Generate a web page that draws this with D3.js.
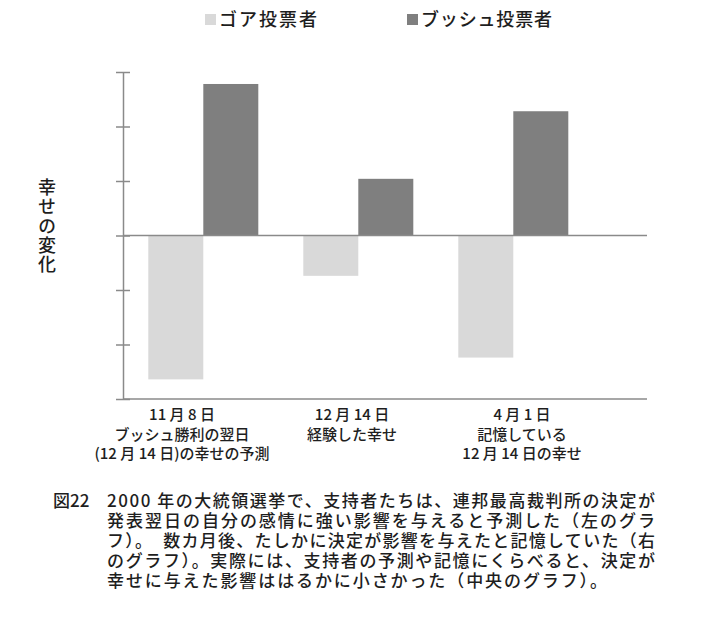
<!DOCTYPE html>
<html>
<head>
<meta charset="utf-8">
<script src="https://cdn.jsdelivr.net/npm/d3@7"></script>
<style>
  body { margin: 0; background: #fff; }
  svg { display: block; font-family: "Noto Sans CJK JP", "Noto Sans", sans-serif; }
  text { fill: #1e1e1e; font-weight: 500; }
</style>
</head>
<body>
<div id="chart"></div>
<script>
// Sizes
const width = 704;
const height = 621;

// Data
const categories = ["forecast", "experienced", "remembered"];
const categoryLabels = [
  ["11 月 8 日", "ブッシュ勝利の翌日", "(12 月 14 日)の幸せの予測"],
  ["12 月 14 日", "経験した幸せ"],
  ["4 月 1 日", "記憶している", "12 月 14 日の幸せ"]
];
const seriesNames = ["ゴア投票者", "ブッシュ投票者"];
const goreValues = [-2.64, -0.74, -2.24];
const bushValues = [2.78, 1.04, 2.28];
const yTicks = [-3, -2, -1, 0, 1, 2, 3];
const yLabel = "幸せの変化";
const captionHead = "図22";
const captionLines = [
  "2000 年の大統領選挙で、支持者たちは、連邦最高裁判所の決定が",
  "発表翌日の自分の感情に強い影響を与えると予測した（左のグラ",
  "フ）。　数カ月後、たしかに決定が影響を与えたと記憶していた（右",
  "のグラフ）。実際には、支持者の予測や記憶にくらべると、決定が",
  "幸せに与えた影響ははるかに小さかった（中央のグラフ）。"
];

const colors = ["#d9d9d9", "#7f7f7f"];
const axisColor = "#8a8a8a";

const plot = { left: 123, right: 647, top: 72, bottom: 399 };

const svg = d3.select("#chart")
  .append("svg")
  .attr("width", width)
  .attr("height", height);

// Scales
const x = d3.scaleBand()
  .domain(categories)
  .range([125.8, 590.8])
  .paddingInner(45 / 155)
  .paddingOuter(45 / 310);

const xSub = d3.scaleBand()
  .domain(seriesNames)
  .range([0, x.bandwidth()]);

const y = d3.scaleLinear()
  .domain([-3, 3])
  .range([plot.bottom, plot.top]);

// label positions under the groups
const xLabel = d3.scalePoint()
  .domain(categories)
  .range([182, 522]);

// Bars
const rows = categories.map((c, i) => ({
  cat: c,
  vals: [
    { name: seriesNames[0], v: goreValues[i], c: colors[0] },
    { name: seriesNames[1], v: bushValues[i], c: colors[1] }
  ]
}));

const groups = svg.selectAll(".group")
  .data(rows)
  .enter()
  .append("g")
  .attr("class", "group")
  .attr("transform", d => `translate(${x(d.cat)},0)`);

groups.selectAll("rect")
  .data(d => d.vals)
  .enter()
  .append("rect")
  .attr("x", d => xSub(d.name))
  .attr("y", d => y(Math.max(0, d.v)))
  .attr("width", xSub.bandwidth())
  .attr("height", d => Math.abs(y(d.v) - y(0)))
  .attr("fill", d => d.c);

// Zero line
svg.append("line")
  .attr("x1", plot.left)
  .attr("x2", plot.right)
  .attr("y1", y(0))
  .attr("y2", y(0))
  .attr("stroke", axisColor)
  .attr("stroke-width", 1.5);

// Bottom line
svg.append("line")
  .attr("x1", plot.left)
  .attr("x2", plot.right)
  .attr("y1", y(-3))
  .attr("y2", y(-3))
  .attr("stroke", axisColor)
  .attr("stroke-width", 1.5);

// Y axis with crossing ticks
const yAxis = svg.append("g")
  .attr("transform", `translate(${plot.left},0)`)
  .call(d3.axisLeft(y).tickValues(yTicks).tickFormat("").tickSize(7).tickSizeOuter(0));

yAxis.select(".domain").attr("stroke", axisColor).attr("stroke-width", 1.5);
yAxis.selectAll(".tick line")
  .attr("x1", -7)
  .attr("x2", 7)
  .attr("stroke", axisColor)
  .attr("stroke-width", 1.5);

// Category labels
categories.forEach((c, i) => {
  const t = svg.append("text")
    .attr("text-anchor", "middle")
    .attr("font-size", 15);
  categoryLabels[i].forEach((line, j) => {
    t.append("tspan")
      .attr("x", xLabel(c))
      .attr("y", 420 + j * 19.5)
      .text(line);
  });
});

// Y label, written vertically
svg.append("text")
  .attr("x", 47)
  .attr("y", 178)
  .attr("font-size", 18)
  .style("writing-mode", "vertical-rl")
  .style("text-orientation", "upright")
  .style("letter-spacing", "1.4px")
  .text(yLabel);

// Legend
const legendX = [205, 407];
const legendW = [102, 135];
seriesNames.forEach((name, i) => {
  svg.append("rect")
    .attr("x", legendX[i])
    .attr("y", 14)
    .attr("width", 11)
    .attr("height", 11)
    .attr("fill", colors[i]);
  svg.append("text")
    .attr("x", legendX[i] + 14)
    .attr("y", 26)
    .attr("font-size", 18)
    .attr("textLength", legendW[i] - 4)
    .attr("lengthAdjust", "spacing")
    .text(name);
});

// Caption (one text block, lines as tspans)
const capWidths = [548, 548, 548, 548, 500];
const caption = svg.append("text")
  .attr("font-size", 17);

caption.append("tspan")
  .attr("x", 53)
  .attr("y", 507)
  .text(captionHead);

captionLines.forEach((line, i) => {
  caption.append("tspan")
    .attr("x", 107)
    .attr("y", 507 + i * 20)
    .attr("textLength", capWidths[i])
    .attr("lengthAdjust", "spacing")
    .text(line);
});
</script>
</body>
</html>
